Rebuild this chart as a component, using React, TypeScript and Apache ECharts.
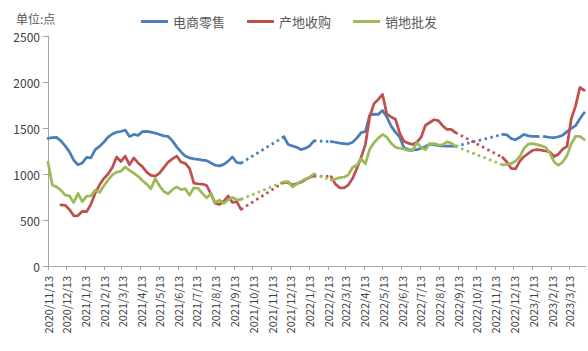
import React, { useEffect, useRef } from 'react';
import * as echarts from 'echarts';

// Weekly data, first week = 2020/11/13, one value per week (null = no data)
const seriesNames = ['电商零售', '产地收购', '销地批发'];
const seriesColors = ['#4A7EBB', '#C0504D', '#9BBB59'];

const ecommerce: (number | null)[] = [
  1388, 1395, 1398, 1360, 1305, 1240, 1150, 1100, 1120, 1180,
  1175, 1265, 1300, 1345, 1400, 1435, 1455, 1462, 1478, 1408,
  1430, 1420, 1460, 1464, 1455, 1445, 1430, 1415, 1408, 1360,
  1295, 1240, 1195, 1175, 1165, 1160, 1150, 1145, 1120, 1095,
  1088, 1105, 1140, 1185, 1125, 1118, null, null, null, null,
  null, null, null, null, null, 1405, 1320, 1305, 1290, 1265,
  1280, 1305, 1360, null, null, null, 1352, 1345, 1335, 1330,
  1326, 1345, 1390, 1450, 1462, 1640, 1650, 1648, 1690, 1620,
  1520, 1455, 1400, 1285, 1265, 1262, 1265, 1280, 1300, 1325,
  1320, 1308, 1305, 1303, 1302, 1300, null, null, null, null,
  null, null, null, null, null, null, 1431, 1425, 1385, 1372,
  1400, 1430, 1415, 1410, 1408, null, 1405, 1398, 1395, 1405,
  1422, 1460, 1495, 1525, 1600, 1665,
];

const origin: (number | null)[] = [
  null, null, null, 665, 660, 615, 545, 548, 595, 590,
  670, 790, 880, 950, 1000, 1070, 1185, 1135, 1195, 1100,
  1175, 1120, 1080, 1020, 985, 978, 1010, 1070, 1130, 1165,
  1195, 1130, 1115, 1060, 900, 893, 891, 875, 780, 680,
  670, 705, 760, 690, 700, 615, null, null, null, null,
  null, null, null, null, null, 910, 905, 880, 895, 910,
  940, 962, 978, null, null, null, 972, 890, 850, 848,
  880, 950, 1060, 1180, 1320, 1620, 1765, 1810, 1865, 1650,
  1620, 1595, 1445, 1355, 1335, 1320, 1345, 1400, 1530, 1560,
  1590, 1580, 1525, 1485, 1486, 1450, null, null, null, null,
  null, null, null, null, null, null, 1180, 1130, 1060, 1055,
  1140, 1190, 1225, 1258, 1265, 1260, 1250, 1240, 1190, 1215,
  1270, 1300, 1600, 1740, 1940, 1910,
];

const wholesale: (number | null)[] = [
  1130, 880, 860, 825, 770, 762, 690, 790, 700, 760,
  762, 825, 800, 870, 935, 990, 1020, 1030, 1075, 1040,
  1010, 975, 930, 890, 840, 950, 870, 810, 785, 830,
  860, 830, 840, 770, 850, 845, 790, 740, 790, 690,
  715, 680, 720, 745, 720, 725, null, null, null, null,
  null, null, null, null, null, 915, 918, 860, 890, 920,
  945, 965, 1000, null, null, null, 935, 945, 960, 965,
  990, 1070, 1095, 1165, 1110, 1270, 1340, 1390, 1430, 1400,
  1335, 1290, 1280, 1270, 1255, 1255, 1340, 1290, 1265, 1330,
  1330, 1315, 1320, 1350, 1335, 1300, null, null, null, null,
  null, null, null, null, null, null, 1100, 1105, 1115, 1140,
  1190, 1280, 1325, 1330, 1320, 1308, 1290, 1230, 1130, 1095,
  1130, 1200, 1330, 1410, 1408, 1375,
];

const yTicks = { min: 0, max: 2500, interval: 500 };

// Daily category axis (Excel date axis): 2020/11/13 .. 2023/4/10
const START_UTC = Date.UTC(2020, 10, 13);
const TOTAL_DAYS = 878;
const DAY_MS = 86400000;

const categories: string[] = [];
for (let d = 0; d <= TOTAL_DAYS; d++) {
  const dt = new Date(START_UTC + d * DAY_MS);
  categories.push(`${dt.getUTCFullYear()}/${dt.getUTCMonth() + 1}/${dt.getUTCDate()}`);
}

const isLabelDay = (_i: number, v: string) => /\/13$/.test(v);

function solidData(vals: (number | null)[]) {
  return vals.map((v, i) => [categories[i * 7], v === null ? null : v]);
}

function bridgeData(vals: (number | null)[]) {
  const out: any[] = [];
  let i = 0;
  while (i < vals.length) {
    if (vals[i] === null) {
      const a = i - 1;
      let b = i;
      while (b < vals.length && vals[b] === null) b++;
      if (a >= 0 && b < vals.length) {
        out.push([categories[a * 7], vals[a]]);
        out.push([categories[b * 7], vals[b]]);
        out.push([categories[Math.min(b * 7 + 1, TOTAL_DAYS)], null]);
      }
      i = b;
    } else i++;
  }
  return out;
}

const FONT = '"Noto Sans CJK SC", "Noto Sans", sans-serif';

export default function App() {
  const ref = useRef<HTMLDivElement>(null);
  useEffect(() => {
    if (!ref.current) return;
    const chart = echarts.init(ref.current, undefined, { renderer: 'svg' });
    const all = [ecommerce, origin, wholesale];
    const series: any[] = [];
    all.forEach((vals, k) => {
      series.push({
        name: seriesNames[k],
        type: 'line',
        data: solidData(vals),
        showSymbol: false,
        symbol: 'none',
        connectNulls: false,
        color: seriesColors[k],
        lineStyle: { width: 2.75, color: seriesColors[k], join: 'round', cap: 'round' },
        z: 2 + k,
      });
    });
    all.forEach((vals, k) => {
      series.push({
        name: seriesNames[k] + '-gap',
        type: 'line',
        data: bridgeData(vals),
        showSymbol: false,
        symbol: 'none',
        connectNulls: false,
        color: seriesColors[k],
        lineStyle: { width: 2.75, color: seriesColors[k], type: [2.5, 3.5] },
        z: 2,
      });
    });
    chart.setOption({
      animation: false,
      textStyle: { fontFamily: FONT },
      title: {
        text: '单位:点',
        left: 11,
        top: 7,
        textStyle: { fontSize: 12, fontWeight: 'normal', color: '#595959', fontFamily: FONT },
      },
      legend: {
        data: seriesNames,
        left: 136,
        top: 10,
        icon: 'rect',
        itemWidth: 27,
        itemHeight: 3,
        itemGap: 22,
        textStyle: { fontSize: 13, color: '#595959', fontFamily: FONT },
      },
      grid: { left: 48, right: 2, top: 36, bottom: 85 },
      xAxis: {
        type: 'category',
        data: categories,
        boundaryGap: false,
        axisLine: { lineStyle: { color: '#A6A6A6', width: 1 } },
        axisTick: { show: true, interval: isLabelDay, length: 4, lineStyle: { color: '#A6A6A6' } },
        axisLabel: {
          interval: isLabelDay,
          rotate: 90,
          fontSize: 11,
          color: '#404040',
          margin: 10,
          fontFamily: FONT,
        },
        splitLine: { show: false },
      },
      yAxis: {
        type: 'value',
        min: yTicks.min,
        max: yTicks.max,
        interval: yTicks.interval,
        axisLine: { show: true, lineStyle: { color: '#A6A6A6', width: 1 } },
        axisTick: { show: true, length: 5, lineStyle: { color: '#A6A6A6' } },
        splitLine: { show: false },
        axisLabel: {
          fontSize: 12,
          color: '#404040',
          margin: 8,
          fontFamily: FONT,
          formatter: (v: number) => String(v),
        },
      },
      series,
    });
    return () => chart.dispose();
  }, []);
  return (
    <div
      ref={ref}
      style={{ position: 'fixed', left: 0, top: 0, width: 588, height: 351, background: '#fff' }}
    />
  );
}
